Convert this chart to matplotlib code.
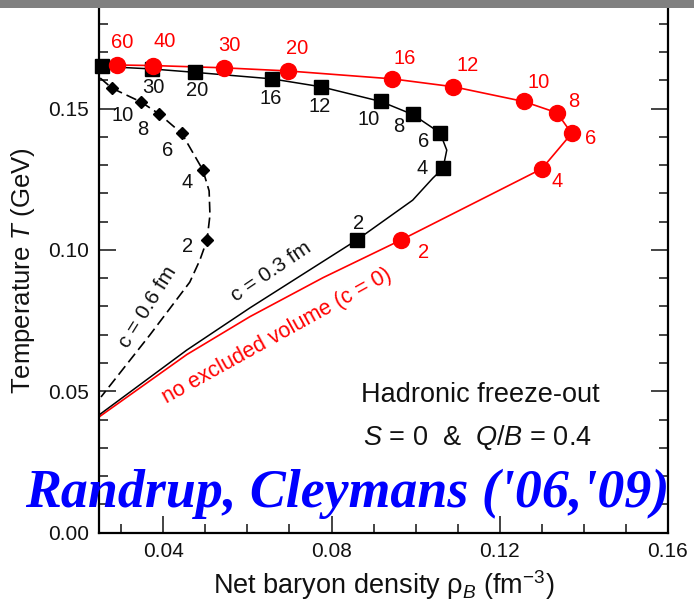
import matplotlib.pyplot as plt
from matplotlib.patches import Rectangle
from matplotlib.ticker import MultipleLocator, FormatStrFormatter

plt.rcParams["font.family"] = ["Liberation Sans", "DejaVu Sans"]
plt.rcParams["mathtext.fontset"] = "custom"
plt.rcParams["mathtext.rm"] = "Liberation Sans"
plt.rcParams["mathtext.it"] = "Liberation Sans:italic"

# freeze-out points, c = 0 (no excluded volume)
c0_rho = [0.0290, 0.0376, 0.0544, 0.0696, 0.0944, 0.1090, 0.1257, 0.1336, 0.1371, 0.1300, 0.0965]
c0_T = [0.1654, 0.1652, 0.1644, 0.1633, 0.1605, 0.1577, 0.1525, 0.1485, 0.1412, 0.1287, 0.1035]
c0_lab = ["60", "40", "30", "20", "16", "12", "10", "8", "6", "4", "2"]
# curve continues below sqrt(s)=2
c0_tail_rho = [0.0780, 0.0606, 0.0456, 0.0247]
c0_tail_T = [0.0902, 0.0764, 0.0630, 0.0409]

# c = 0.3 fm
c3_rho = [0.0254, 0.0373, 0.0475, 0.0658, 0.0775, 0.0917, 0.0993, 0.1058, 0.1065, 0.0860]
c3_T = [0.1649, 0.1640, 0.1628, 0.1605, 0.1577, 0.1525, 0.1479, 0.1414, 0.1288, 0.1035]
c3_lab = ["", "30", "20", "16", "12", "10", "8", "6", "4", "2"]
c3_line_rho = [0.0247, 0.0254, 0.0373, 0.0475, 0.0658, 0.0775, 0.0917, 0.0993, 0.1058,
               0.1074, 0.1065, 0.1041, 0.0993, 0.0860, 0.0606, 0.0456, 0.0247]
c3_line_T = [0.1650, 0.1649, 0.1640, 0.1628, 0.1605, 0.1577, 0.1525, 0.1479, 0.1414,
             0.1353, 0.1288, 0.1254, 0.1176, 0.1035, 0.0795, 0.0646, 0.0416]

# c = 0.6 fm
c6_rho = [0.0278, 0.0346, 0.0390, 0.0444, 0.0494, 0.0504]
c6_T = [0.1572, 0.1524, 0.1481, 0.1412, 0.1283, 0.1035]
c6_lab = ["", "10", "8", "6", "4", "2"]
c6_line_rho = [0.0250, 0.0278, 0.0346, 0.0390, 0.0444, 0.0494, 0.0509, 0.0511,
               0.0504, 0.0487, 0.0463, 0.0368, 0.0252]
c6_line_T = [0.1608, 0.1572, 0.1524, 0.1481, 0.1412, 0.1283, 0.1209, 0.1123,
             0.1035, 0.0964, 0.0886, 0.0699, 0.0480]

# label offsets in points (dx, dy)
c0_off = [(4, 16), (8, 17), (4, 16), (7, 16), (9, 15), (10, 15), (11, 14), (12, 8), (14, -4), (11, -9), (16, -9)]
c3_off = [(0, 0), (1, -13), (2, -13), (-1, -14), (-1, -14), (-9, -13), (-10, -9), (-12, -6), (-15, 0), (1, 12)]
c6_off = [(0, 0), (-13, -10), (-12, -11), (-10, -12), (-11, -9), (-14, -5)]

RED = "#ff0000"
INK = "#111111"

fig = plt.figure(figsize=(6.94, 6.08), dpi=100)
ax = fig.add_axes([99 / 694, 1 - 532.7 / 608, 569 / 694, 523.7 / 608])

ax.plot(c0_rho + c0_tail_rho, c0_T + c0_tail_T, color=RED, lw=1.2, zorder=2)
ax.plot(c0_rho, c0_T, "o", color=RED, ms=11.5, zorder=4, clip_on=False)

ax.plot(c3_line_rho, c3_line_T, color="black", lw=1.1, zorder=2)
ax.plot(c3_rho, c3_T, "s", color="black", ms=9.5, zorder=3, clip_on=False)

ax.plot(c6_line_rho, c6_line_T, color="black", lw=1.2, dashes=[6.5, 3], zorder=2)
ax.plot(c6_rho, c6_T, "D", color="black", ms=6.5, zorder=3, clip_on=False)

for x, y, s, o in zip(c0_rho, c0_T, c0_lab, c0_off):
    ax.annotate(s, (x, y), xytext=o, textcoords="offset points", ha="center",
                va="center", color=RED, fontsize=14.5)
for x, y, s, o in zip(c3_rho, c3_T, c3_lab, c3_off):
    ax.annotate(s, (x, y), xytext=o, textcoords="offset points", ha="center",
                va="center", color=INK, fontsize=14.5)
for x, y, s, o in zip(c6_rho, c6_T, c6_lab, c6_off):
    ax.annotate(s, (x, y), xytext=o, textcoords="offset points", ha="center",
                va="center", color=INK, fontsize=14.5)

ax.text(0.0364, 0.0797, "c = 0.6 fm", rotation=58, rotation_mode="anchor",
        ha="center", va="center", fontsize=15, color=INK)
ax.text(0.0656, 0.0924, "c = 0.3 fm", rotation=34, rotation_mode="anchor",
        ha="center", va="center", fontsize=15, color=INK)
ax.text(0.0671, 0.0696, "no excluded volume (c = 0)", rotation=29,
        rotation_mode="anchor", ha="center", va="center", fontsize=15.5, color=RED)

ax.text(0.1153, 0.0487, "Hadronic freeze-out", ha="center", va="center",
        fontsize=19.5, color=INK)
ax.text(0.1146, 0.0335, "$S$ = 0  &  $Q/B$ = 0.4", ha="center", va="center",
        fontsize=19.5, color=INK)

ax.set_xlim(0.02472, 0.16)
ax.set_ylim(0, 0.1852)
ax.xaxis.set_major_locator(MultipleLocator(0.04))
ax.xaxis.set_minor_locator(MultipleLocator(0.01))
ax.yaxis.set_major_locator(MultipleLocator(0.05))
ax.yaxis.set_minor_locator(MultipleLocator(0.01))
ax.xaxis.set_major_formatter(FormatStrFormatter("%.2f"))
ax.yaxis.set_major_formatter(FormatStrFormatter("%.2f"))
ax.tick_params(which="both", direction="in", right=True, top=False, width=1.1,
               labelsize=15, colors=INK)
ax.tick_params(which="major", length=12, pad=7)
ax.tick_params(which="minor", length=6.5)
ax.spines["top"].set_visible(False)
for side in ["left", "right", "bottom"]:
    ax.spines[side].set_linewidth(1.6)

ax.set_xlabel("Net baryon density ρ$_B$ (fm$^{-3}$)", fontsize=19.5, labelpad=5,
              color=INK)
ax.set_ylabel("Temperature $T$ (GeV)", fontsize=18.5, labelpad=8, color=INK)

fig.text(25 / 694, 1 - 507 / 608, "Randrup, Cleymans ('06,'09)",
         family="Liberation Serif", style="italic", weight="bold",
         fontsize=38.8, color="#0000ff", ha="left", va="baseline")

fig.patches.append(Rectangle((0, 1 - 8 / 608), 1, 8 / 608, transform=fig.transFigure,
                             facecolor="#808080", edgecolor="none", zorder=10))

fig.savefig("out.png", dpi=100)
